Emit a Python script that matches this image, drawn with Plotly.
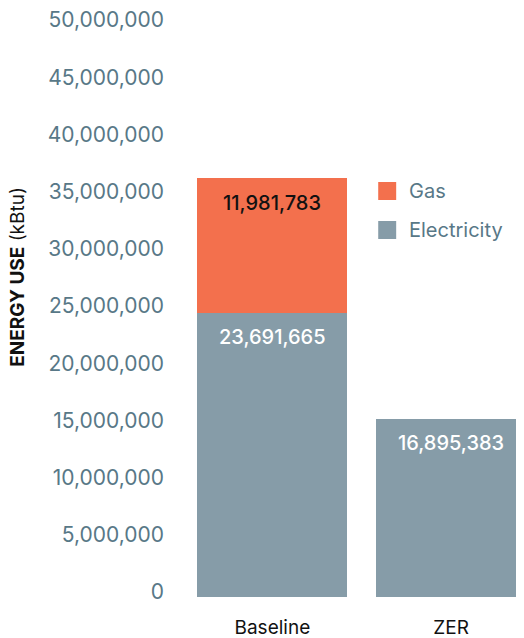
import plotly.graph_objects as go

categories = ["Baseline", "ZER"]
# bar heights as drawn in the picture (kBtu)
electricity_values = [24_850_000, 15_560_000]
gas_values = [11_750_000, 0]
# value labels printed on the bars
electricity_labels = ["23,691,665", "16,895,383"]
gas_labels = ["11,981,783", ""]
y_ticks = list(range(0, 50_000_001, 5_000_000))
legend_items = ["Gas", "Electricity"]

ELEC = "#869CA8"
GAS = "#F3704D"
TICK = "#587887"
FONT = "Inter"

# figure is placed 8px in from the page corner (body margin)
FIG_W, FIG_H = 516, 630
L, T, B = 174.5, 17, 41
W = FIG_W - L
H = FIG_H - T - B

fig = go.Figure()
fig.add_trace(go.Bar(x=categories, y=electricity_values, name="Electricity",
                     marker=dict(color=ELEC, line=dict(width=0)), showlegend=False))
fig.add_trace(go.Bar(x=categories, y=gas_values, name="Gas",
                     marker=dict(color=GAS, line=dict(width=0)), showlegend=False))

# value labels near the top of each segment
for i, c in enumerate(categories):
    fig.add_annotation(x=c, y=electricity_values[i], yshift=-24, text=electricity_labels[i],
                       showarrow=False, font=dict(family=FONT, size=20, color="white", weight=500),
                       xref="x", yref="y")
    if gas_labels[i]:
        fig.add_annotation(x=c, y=electricity_values[i] + gas_values[i], yshift=-25,
                           text=gas_labels[i], showarrow=False,
                           font=dict(family=FONT, size=20, color="#111111", weight=500),
                           xref="x", yref="y")

def px_x(p):
    return (p - L) / W
def px_y(p):
    return (FIG_H - B - p) / H

# legend
for name, color, cy in [(legend_items[0], GAS, 183), (legend_items[1], ELEC, 222)]:
    fig.add_shape(type="rect", xref="paper", yref="paper",
                  x0=px_x(370), x1=px_x(388), y0=px_y(cy + 9), y1=px_y(cy - 9),
                  fillcolor=color, line=dict(width=0))
    fig.add_annotation(xref="paper", yref="paper", x=px_x(399), y=px_y(cy),
                       xanchor="left", yanchor="middle", text=name, showarrow=False,
                       font=dict(family=FONT, size=20, color=TICK))

# y axis title
fig.add_annotation(xref="paper", yref="paper", x=px_x(8), y=px_y(269),
                   xanchor="center", yanchor="middle", textangle=-90, showarrow=False,
                   text="<b>ENERGY USE</b> (kBtu)",
                   font=dict(family=FONT, size=19, color="#111111"))

fig.update_layout(
    barmode="stack",
    bargap=0.162,
    width=FIG_W, height=FIG_H,
    margin=dict(l=L, r=0, t=T, b=B, pad=0),
    paper_bgcolor="white", plot_bgcolor="white",
    font=dict(family=FONT),
    showlegend=False,
    xaxis=dict(range=[-0.5, 1.408], showgrid=False, zeroline=False, showline=False,
               ticks="", tickfont=dict(family=FONT, size=19, color="#111111"),
               ticklabelstandoff=17, automargin=False),
    yaxis=dict(range=[0, 50_000_000], tickvals=y_ticks, tickformat=",",
               showgrid=False, zeroline=False, showline=False, ticks="",
               tickfont=dict(family=FONT, size=21, color=TICK),
               ticklabelstandoff=18, ticklabelshift=-5, ticklabeloverflow="allow",
               automargin=False),
)

fig.write_html("out.html")
